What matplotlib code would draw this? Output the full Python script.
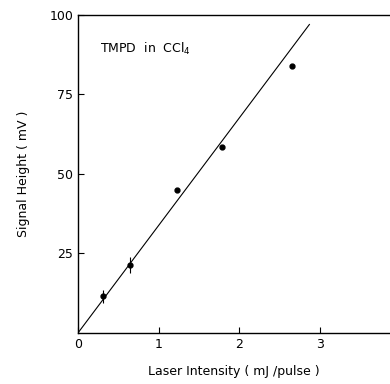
import matplotlib
matplotlib.use("Agg")
import matplotlib.pyplot as plt
import numpy as np

# data
intensity = [0.31, 0.64, 1.23, 1.78, 2.66]
signal = [11.5, 21.5, 45.0, 58.5, 84.0]
signal_err = [2.0, 2.5, 0, 0, 0]
fit_x = [0.0, 2.87]
fit_slope = 33.8

fig = plt.figure(figsize=(3.9, 3.84), dpi=100)
ax = fig.add_axes([0.2, 0.133, 0.8, 0.828])

fx = np.array(fit_x)
ax.plot(fx, fit_slope * fx, color="black", lw=0.8)
ax.errorbar(intensity, signal, yerr=signal_err, fmt="o", color="black",
            ms=3.5, elinewidth=0.8, capsize=0)

ax.set_xlim(0, 3.87)
ax.set_ylim(0, 100)
ax.set_xticks([0, 1, 2, 3])
ax.set_yticks([25, 50, 75, 100])
ax.spines["right"].set_visible(False)
for s in ["left", "bottom", "top"]:
    ax.spines[s].set_linewidth(1.0)
ax.tick_params(direction="in", length=4, width=0.8, labelsize=9)
ax.text(0.27, 88, r"TMPD  in  CCl$_4$", fontsize=9)

ax.set_xlabel("Laser Intensity ( mJ /pulse )", fontsize=9, labelpad=10)
ax.set_ylabel("Signal Height ( mV )", fontsize=9, labelpad=14)

fig.savefig("out.png", dpi=100)
